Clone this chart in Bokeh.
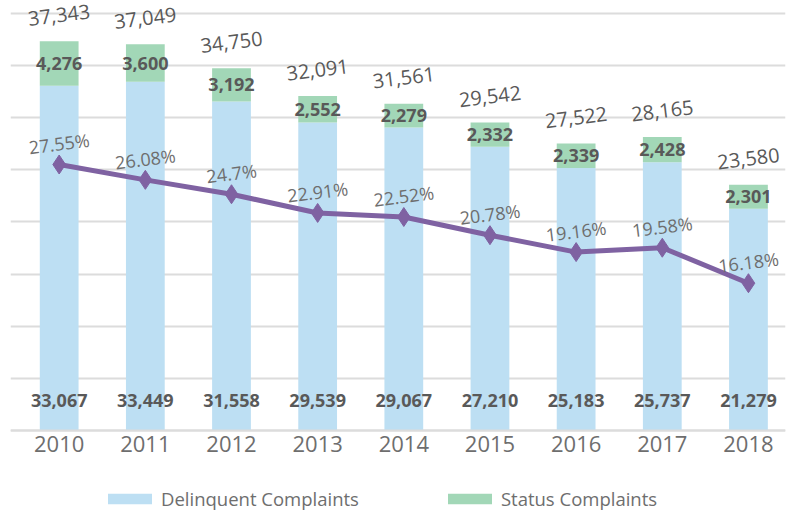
from bokeh.plotting import figure
from bokeh.models import (ColumnDataSource, Range1d, LabelSet, Legend, LegendItem,
                          FixedTicker)
from bokeh.core.properties import value
from bokeh.embed import file_html
from bokeh.resources import INLINE

years = [2010, 2011, 2012, 2013, 2014, 2015, 2016, 2017, 2018]
delinquent = [33067, 33449, 31558, 29539, 29067, 27210, 25183, 25737, 21279]
status = [4276, 3600, 3192, 2552, 2279, 2332, 2339, 2428, 2301]
totals = [37343, 37049, 34750, 32091, 31561, 29542, 27522, 28165, 23580]
pct = [27.55, 26.08, 24.7, 22.91, 22.52, 20.78, 19.16, 19.58, 16.18]

BLUE = "#BDDFF3"
GREEN = "#A2D7B7"
PURPLE = "#7F62A2"
GRID = "#DCDCDC"
FONT = "Open Sans"

top = [d + s for d, s in zip(delinquent, status)]
src = ColumnDataSource(dict(
    x=years,
    d=delinquent,
    s=status,
    top=top,
    smid=[d + s / 2 for d, s in zip(delinquent, status)],
    zero=[0] * len(years),
    d_lab=[f"{v:,}" for v in delinquent],
    s_lab=[f"{v:,}" for v in status],
    t_lab=[f"{v:,}" for v in totals],
    pct=pct,
    p_lab=[f"{v:g}%" for v in pct],
))

p = figure(width=796, height=514, output_backend="svg", toolbar_location=None,
           x_range=Range1d(2009.435, 2018.43), y_range=Range1d(-8058, 41247),
           min_border_left=10, min_border_right=11, min_border_top=0,
           min_border_bottom=0)
p.extra_y_ranges = {"pct": Range1d(-5.976, 43.26)}
p.outline_line_color = None
p.background_fill_color = "white"

b1 = p.vbar(x="x", top="d", bottom=0, width=0.45, source=src,
            fill_color=BLUE, line_color=None)
b2 = p.vbar(x="x", top="top", bottom="d", width=0.45, source=src,
            fill_color=GREEN, line_color=None)

p.line(x="x", y="pct", source=src, y_range_name="pct", line_color=PURPLE,
       line_width=5)
p.scatter(x="x", y="pct", source=src, y_range_name="pct", marker="diamond",
          size=19, fill_color=PURPLE, line_color=PURPLE)

# grid / axes
p.yaxis.visible = False
p.ygrid.ticker = FixedTicker(ticks=list(range(0, 40001, 5000)))
p.ygrid.grid_line_color = GRID
p.ygrid.grid_line_width = 2
p.xgrid.visible = False

p.xaxis.fixed_location = 0
p.xaxis.ticker = FixedTicker(ticks=years)
p.xaxis.major_tick_line_color = None
p.xaxis.major_tick_out = 0
p.xaxis.minor_tick_line_color = None
p.xaxis.minor_tick_out = 0
p.xaxis.axis_line_color = GRID
p.xaxis.axis_line_width = 2
p.xaxis.major_label_text_font = FONT
p.xaxis.major_label_text_font_size = "22px"
p.xaxis.major_label_text_color = "#6E6E6E"
p.xaxis.major_label_standoff = 6

# labels
p.add_layout(LabelSet(x="x", y="top", text="t_lab", source=src, y_offset=26,
                      angle=7, angle_units="deg", text_align="center",
                      text_baseline="middle", text_font=value(FONT),
                      text_font_size="20px", text_color="#595959"))
p.add_layout(LabelSet(x="x", y="smid", text="s_lab", source=src,
                      text_align="center", text_baseline="middle",
                      text_font=value(FONT), text_font_style="bold",
                      text_font_size="18px", text_color="#595959"))
p.add_layout(LabelSet(x="x", y="zero", text="d_lab", source=src, y_offset=30,
                      text_align="center", text_baseline="middle",
                      text_font=value(FONT), text_font_style="bold",
                      text_font_size="18px", text_color="#595959"))
p.add_layout(LabelSet(x="x", y="pct", text="p_lab", source=src,
                      y_range_name="pct", y_offset=21,
                      angle=7, angle_units="deg", text_align="center",
                      text_baseline="middle", text_font=value(FONT),
                      text_font_size="18px", text_color="#6E6E6E"))

legend = Legend(items=[LegendItem(label="Delinquent Complaints", renderers=[b1]),
                       LegendItem(label="Status Complaints", renderers=[b2])],
                orientation="horizontal", location=(92, 3),
                glyph_width=55, glyph_height=13, label_standoff=4, spacing=83,
                padding=0, margin=0, border_line_color=None,
                background_fill_alpha=0,
                label_text_font=FONT, label_text_font_size="18.5px",
                label_text_color="#6E6E6E")
p.add_layout(legend, "center")

open("out.html", "w").write(file_html(p, INLINE))
